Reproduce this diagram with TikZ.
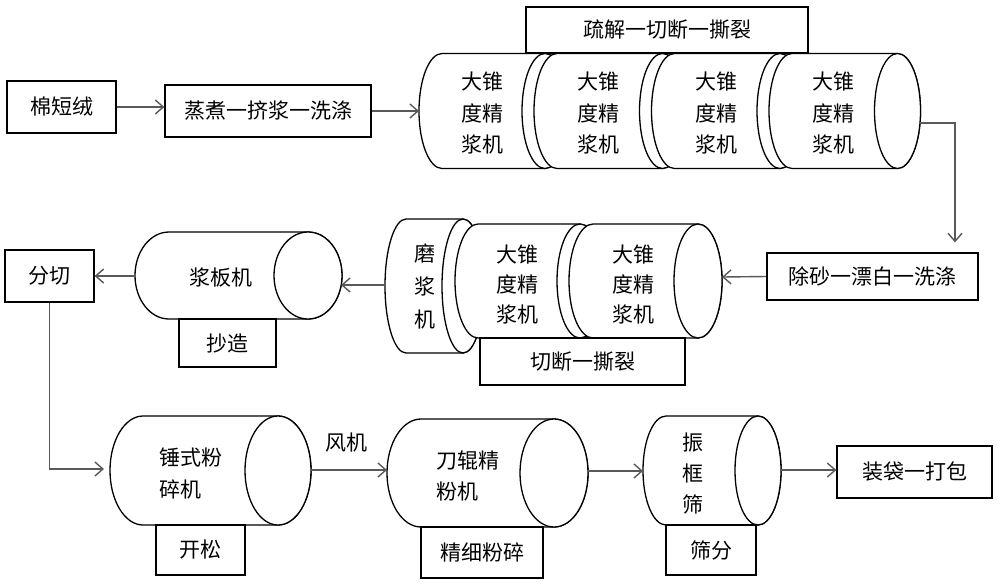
\documentclass[tikz,border=0pt]{standalone}
\usepackage{fontspec}
\newfontfamily\cjk{Noto Sans CJK SC}
\usetikzlibrary{arrows.meta,calc}
\newcommand\drawcan[5]{%
  \filldraw[canstyle] (#2,#3-#5) -- (#1,#3-#5) arc[start angle=270,end angle=90,x radius=#4,y radius=#5] -- (#2,#3+#5) arc[start angle=90,end angle=-90,x radius=#4,y radius=#5] -- cycle;
  \draw[canstyle] (#2,#3) ellipse[x radius=#4,y radius=#5];
}
\begin{document}
\begin{tikzpicture}[x=1pt,y=-1pt,
  every node/.style={font=\cjk\fontsize{21}{31.5}\selectfont, inner sep=0pt},
  box/.style={draw=black, line width=1.3pt, fill=white},
  canstyle/.style={draw=black, line width=1.3pt, fill=white},
  conn/.style={draw=black!65, line width=1.4pt, -{Straight Barb[length=8pt,width=14pt,line width=1.4pt]}},
  lbl/.style={align=center}
]
\useasboundingbox (0,0) rectangle (1000,587);

% ---------- top row ----------
\node[box, minimum width=109pt, minimum height=52pt] (mian) at (61.5,107) {棉短绒};
\node[box, minimum width=206pt, minimum height=52pt] (zheng) at (268,111) {蒸煮一挤浆一洗涤};
\drawcan{442}{545}{111}{23}{57.5}
\node[lbl] (t1) at (482,113.5) {大锥\\度精\\浆机};
\drawcan{557}{662.5}{111}{23}{57.5}
\node[lbl] (t2) at (598,113.5) {大锥\\度精\\浆机};
\drawcan{674.5}{780}{111}{23}{57.5}
\node[lbl] (t3) at (716,113.5) {大锥\\度精\\浆机};
\drawcan{792}{897.5}{111}{23}{57.5}
\node[lbl] (t4) at (833,113.5) {大锥\\度精\\浆机};
\node[box, minimum width=282pt, minimum height=46pt] (shu) at (667,30) {疏解一切断一撕裂};
\coordinate (t1w) at (419,111);
\coordinate (t4e) at (920,123);
\coordinate (turn) at (955,123);

% ---------- middle row ----------
\node[box, minimum width=211pt, minimum height=47pt] (chu) at (872.5,276.5) {除砂一漂白一洗涤};
\drawcan{406}{463}{286}{21}{67}
\node[lbl, font=\cjk\fontsize{21}{33}\selectfont] (mo) at (425,287) {磨\\浆\\机};
\drawcan{478}{580}{281}{23}{57}
\node[lbl, font=\cjk\fontsize{21}{30}\selectfont] (ma) at (517.5,285) {大锥\\度精\\浆机};
\drawcan{593}{698}{281}{24}{57}
\node[lbl, font=\cjk\fontsize{21}{30}\selectfont] (mb) at (633.5,285) {大锥\\度精\\浆机};
\node[box, minimum width=205pt, minimum height=47pt] (qie) at (582.5,361.5) {切断一撕裂};
\coordinate (be) at (722,277);
\coordinate (mw) at (385,285);

\drawcan{169}{308}{275.5}{34}{43.5}
\node (jbt) at (221,277) {浆板机};
\node[box, minimum width=97pt, minimum height=48pt] (chao) at (227.5,343) {抄造};
\coordinate (jbe) at (341,285);
\coordinate (jbw) at (135,276);
\node[box, minimum width=89pt, minimum height=52pt] (fen) at (49.5,276) {分切};

% ---------- bottom row ----------
\drawcan{143}{278}{470.5}{33}{54.5}
\node[align=left, anchor=west] (cst) at (159,473.5) {锤式粉\\碎机};
\node[box, minimum width=89pt, minimum height=50pt] (kai) at (200.5,550) {开松};
\drawcan{421}{554}{473}{34}{54}
\node[align=left, anchor=west] (dgt) at (436,476) {刀辊精\\粉机};
\node[box, minimum width=122pt, minimum height=51pt] (jx) at (482,552.5) {精细粉碎};
\drawcan{666}{758}{470.5}{23}{54.5}
\node[lbl, font=\cjk\fontsize{21}{31}\selectfont] (zkt) at (693,474) {振\\框\\筛};
\node[box, minimum width=90pt, minimum height=50pt] (sf) at (711,550) {筛分};
\node[box, minimum width=155pt, minimum height=52pt] (zd) at (914.5,472) {装袋一打包};
\node (fj) at (346,443) {风机};
\coordinate (bend) at (49.5,469);
\coordinate (csw) at (110,469);
\coordinate (cse) at (311,470);
\coordinate (dgw) at (387,470);
\coordinate (dge) at (588,471);
\coordinate (zkw) at (643,471);
\coordinate (zke) at (781,470);

% ---------- connectors ----------
\draw[conn] (mian.east) -- (mian.east -| zheng.west);
\draw[conn] (zheng.east) -- (t1w);
\draw[conn, shorten >=10pt] (t4e) -- (turn) -- (turn |- chu.north);
\draw[conn] (chu.west) -- (be);
\draw[conn] (mw) -- (jbe);
\draw[conn] (jbw) -- (fen.east);
\draw[conn, shorten >=6pt] (fen.south) -- (bend) -- (csw);
\draw[conn] (cse) -- (dgw);
\draw[conn] (dge) -- (zkw);
\draw[conn] (zke) -- (zke -| zd.west);
\end{tikzpicture}
\end{document}
